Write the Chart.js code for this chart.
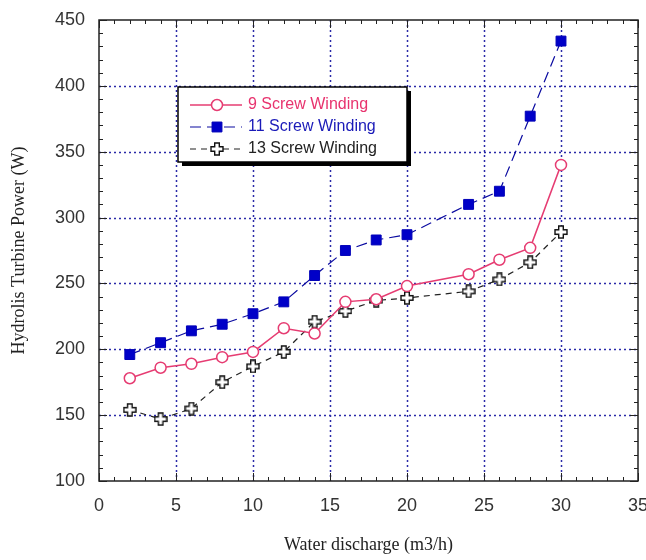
<!DOCTYPE html>
<html>
<head>
<meta charset="utf-8">
<script src="https://cdn.jsdelivr.net/npm/chart.js@4.4.1/dist/chart.umd.min.js"></script>
<style>
    html, body { margin: 0; padding: 0; background: #ffffff; }
    #wrap { width: 646px; height: 560px; }
</style>
</head>
<body>
<div id="wrap"><canvas id="power-chart" width="646" height="560"></canvas></div>
<script>
// Values
const discharge = [2, 4, 6, 8, 10, 12, 14, 16, 18, 20, 24, 26, 28, 30];
const power9 = [178, 186, 189, 194, 198, 216, 212, 236, 238, 248, 257, 268, 277, 340];
const power11 = [196, 205, 214, 219, 227, 236, 256, 275, 283, 287, 310, 320, 377, 434];
const power13 = [154, 147, 155, 175, 187, 198, 221, 229, 237, 239, 244, 253, 266, 289];
const seriesNames = ['9 Screw Winding', '11 Screw Winding', '13 Screw Winding'];
const xTicks = [0, 5, 10, 15, 20, 25, 30, 35];
const yTicks = [100, 150, 200, 250, 300, 350, 400, 450];

function toPoints(values) {
    return values.map((v, i) => ({ x: discharge[i], y: v }));
}

// Outlined plus marker for the 13 winding series
function makePlusMarker() {
    const c = document.createElement('canvas');
    c.width = 14;
    c.height = 14;
    const g = c.getContext('2d');
    const m = 7, a = 6, w = 2.3;
    g.beginPath();
    g.moveTo(m - w, m - a);
    g.lineTo(m + w, m - a);
    g.lineTo(m + w, m - w);
    g.lineTo(m + a, m - w);
    g.lineTo(m + a, m + w);
    g.lineTo(m + w, m + w);
    g.lineTo(m + w, m + a);
    g.lineTo(m - w, m + a);
    g.lineTo(m - w, m + w);
    g.lineTo(m - a, m + w);
    g.lineTo(m - a, m - w);
    g.lineTo(m - w, m - w);
    g.closePath();
    g.fillStyle = '#ffffff';
    g.fill();
    g.lineWidth = 1.4;
    g.strokeStyle = '#111111';
    g.stroke();
    return c;
}

const plusMarker = makePlusMarker();

// Dotted grid, frame with inward ticks, and boxed legend
const framePlugin = {
    id: 'frame',
    beforeDatasetsDraw(chart) {
        const ctx = chart.ctx;
        const area = chart.chartArea;
        const xs = chart.scales.x;
        const ys = chart.scales.y;
        ctx.save();
        ctx.strokeStyle = '#2a2aa8';
        ctx.lineWidth = 1.5;
        ctx.setLineDash([2, 3]);
        xTicks.slice(1, -1).forEach(v => {
            const px = Math.round(xs.getPixelForValue(v)) + 0.5;
            ctx.beginPath();
            ctx.moveTo(px, area.top);
            ctx.lineTo(px, area.bottom);
            ctx.stroke();
        });
        yTicks.slice(1, -1).forEach(v => {
            const py = Math.round(ys.getPixelForValue(v)) + 0.5;
            ctx.beginPath();
            ctx.moveTo(area.left, py);
            ctx.lineTo(area.right, py);
            ctx.stroke();
        });
        ctx.restore();
    },
    afterDraw(chart) {
        const ctx = chart.ctx;
        const area = chart.chartArea;
        const xs = chart.scales.x;
        const ys = chart.scales.y;
        ctx.save();
        ctx.strokeStyle = '#222222';
        ctx.lineWidth = 1.5;
        ctx.strokeRect(area.left, area.top, area.right - area.left, area.bottom - area.top);

        // tick marks on all four sides, pointing inward
        ctx.lineWidth = 1;
        for (let v = 0; v <= 35; v++) {
            const px = Math.round(xs.getPixelForValue(v)) + 0.5;
            const len = v % 5 === 0 ? 8 : 4;
            ctx.beginPath();
            ctx.moveTo(px, area.bottom);
            ctx.lineTo(px, area.bottom - len);
            ctx.moveTo(px, area.top);
            ctx.lineTo(px, area.top + len);
            ctx.stroke();
        }
        for (let v = 100; v <= 450; v += 10) {
            const py = Math.round(ys.getPixelForValue(v)) + 0.5;
            const len = v % 50 === 0 ? 8 : 4;
            ctx.beginPath();
            ctx.moveTo(area.left, py);
            ctx.lineTo(area.left + len, py);
            ctx.moveTo(area.right, py);
            ctx.lineTo(area.right - len, py);
            ctx.stroke();
        }

        // legend box
        const bx = 178, by = 87, bw = 229, bh = 75;
        ctx.fillStyle = '#000000';
        ctx.fillRect(bx + 4, by + 4, bw, bh);
        ctx.fillStyle = '#ffffff';
        ctx.fillRect(bx, by, bw, bh);
        ctx.strokeStyle = '#000000';
        ctx.lineWidth = 1.5;
        ctx.strokeRect(bx, by, bw, bh);

        ctx.font = '16px "Liberation Sans", Arial, sans-serif';
        ctx.textBaseline = 'middle';
        ctx.textAlign = 'left';
        chart.data.datasets.forEach((ds, i) => {
            const rowY = by + 18 + i * 22;
            ctx.save();
            ctx.strokeStyle = ds.borderColor;
            ctx.lineWidth = ds.borderWidth;
            ctx.setLineDash(ds.borderDash || []);
            ctx.beginPath();
            ctx.moveTo(190, rowY);
            ctx.lineTo(242, rowY);
            ctx.stroke();
            ctx.restore();

            ctx.save();
            ctx.fillStyle = ds.pointBackgroundColor;
            ctx.strokeStyle = ds.pointBorderColor;
            ctx.lineWidth = ds.pointBorderWidth;
            Chart.helpers.drawPoint(ctx, {
                pointStyle: ds.pointStyle,
                radius: ds.pointRadius,
                borderWidth: ds.pointBorderWidth,
                rotation: 0
            }, 217, rowY);
            ctx.restore();

            ctx.fillStyle = ds.legendTextColor;
            ctx.fillText(ds.label, 248, rowY);
        });
        ctx.restore();
    }
};

const ctx = document.getElementById('power-chart').getContext('2d');

new Chart(ctx, {
    type: 'line',
    data: {
        datasets: [
            {
                label: seriesNames[0],
                data: toPoints(power9),
                borderColor: '#e63c72',
                borderWidth: 1.5,
                pointStyle: 'circle',
                pointRadius: 5.5,
                pointBorderWidth: 1.5,
                pointBorderColor: '#e63c72',
                pointBackgroundColor: '#ffffff',
                legendTextColor: '#e8336e'
            },
            {
                label: seriesNames[1],
                data: toPoints(power11),
                borderColor: '#0a0aa0',
                borderWidth: 1.2,
                borderDash: [11, 6],
                pointStyle: 'rect',
                pointRadius: 7,
                pointBorderWidth: 1,
                pointBorderColor: '#0000b8',
                pointBackgroundColor: '#0000c8',
                legendTextColor: '#1a1ab8'
            },
            {
                label: seriesNames[2],
                data: toPoints(power13),
                borderColor: '#222222',
                borderWidth: 1.2,
                borderDash: [6, 5],
                pointStyle: plusMarker,
                pointRadius: 7,
                pointBorderWidth: 1,
                pointBorderColor: '#111111',
                pointBackgroundColor: '#ffffff',
                legendTextColor: '#222222'
            }
        ]
    },
    options: {
        responsive: false,
        animation: false,
        layout: { padding: { top: 20, right: 6, left: 0, bottom: 0 } },
        plugins: {
            legend: { display: false },
            tooltip: { enabled: false }
        },
        scales: {
            x: {
                type: 'linear',
                min: 0,
                max: 35,
                afterFit: scale => {
                    scale.height = 79;
                    scale.paddingLeft = 0;
                    scale.paddingRight = 0;
                },
                afterBuildTicks: scale => { scale.ticks = xTicks.map(v => ({ value: v })); },
                grid: { display: false, drawTicks: false },
                border: { display: false },
                ticks: {
                    padding: 14,
                    color: '#333333',
                    font: { family: '"Liberation Sans", Arial, sans-serif', size: 18 }
                },
                title: {
                    display: true,
                    text: 'Water discharge (m3/h)',
                    color: '#222222',
                    padding: { top: 0, bottom: 4 },
                    font: { family: '"Liberation Serif", "Times New Roman", serif', size: 18 }
                }
            },
            y: {
                type: 'linear',
                min: 100,
                max: 450,
                afterFit: scale => {
                    scale.width = 99;
                    scale.paddingTop = 0;
                    scale.paddingBottom = 0;
                },
                afterBuildTicks: scale => { scale.ticks = yTicks.map(v => ({ value: v })); },
                grid: { display: false, drawTicks: false },
                border: { display: false },
                ticks: {
                    padding: 14,
                    color: '#333333',
                    font: { family: '"Liberation Sans", Arial, sans-serif', size: 18 }
                },
                title: {
                    display: true,
                    text: 'Hydrolis Turbine Power (W)',
                    color: '#222222',
                    padding: { top: 8, bottom: 0 },
                    font: { family: '"Liberation Serif", "Times New Roman", serif', size: 18 }
                }
            }
        }
    },
    plugins: [framePlugin]
});
</script>
</body>
</html>
